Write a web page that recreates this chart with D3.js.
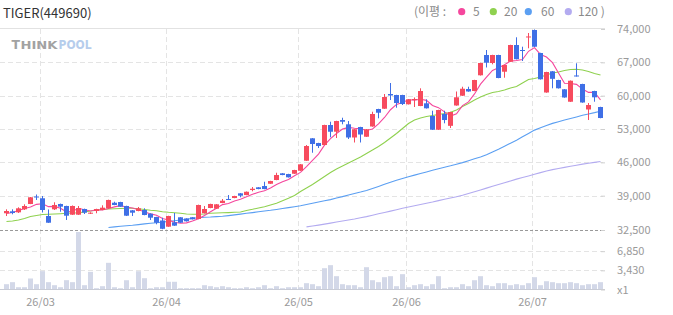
<!DOCTYPE html>
<html><head><meta charset="utf-8">
<script src="https://cdn.jsdelivr.net/npm/d3@7/dist/d3.min.js"></script>
<style>
html,body{margin:0;padding:0;background:#fff;}
svg{display:block;font-family:"Noto Sans CJK KR","Noto Sans",sans-serif;}
</style></head><body>
<svg id="chart" width="673" height="315"></svg>
<script>
// ---------- DATA ----------
const dates = [
"26/02/20","26/02/23","26/02/24","26/02/25","26/02/26","26/02/27",
"26/03/03","26/03/04","26/03/05","26/03/06","26/03/09","26/03/10","26/03/11","26/03/12","26/03/13","26/03/16","26/03/17","26/03/18","26/03/19","26/03/20","26/03/23","26/03/24","26/03/25","26/03/26","26/03/27","26/03/30","26/03/31",
"26/04/01","26/04/02","26/04/03","26/04/06","26/04/07","26/04/08","26/04/09","26/04/10","26/04/13","26/04/14","26/04/15","26/04/16","26/04/17","26/04/20","26/04/21","26/04/22","26/04/23","26/04/24","26/04/27","26/04/28","26/04/29","26/04/30",
"26/05/04","26/05/06","26/05/07","26/05/08","26/05/11","26/05/12","26/05/13","26/05/14","26/05/15","26/05/18","26/05/19","26/05/20","26/05/21","26/05/22","26/05/26","26/05/27","26/05/28","26/05/29",
"26/06/01","26/06/02","26/06/04","26/06/05","26/06/08","26/06/09","26/06/10","26/06/11","26/06/12","26/06/15","26/06/16","26/06/17","26/06/18","26/06/19","26/06/22","26/06/23","26/06/24","26/06/25","26/06/26","26/06/29","26/06/30",
"26/07/01","26/07/02","26/07/03","26/07/06","26/07/07","26/07/08","26/07/09","26/07/10","26/07/13","26/07/14","26/07/15","26/07/16"];

const open = [35670,36040,35850,36420,37430,38850,38510,35150,36420,37430,
37050,35400,35400,36480,35590,36100,36290,36610,37670,37800,
37050,36230,36100,36290,35590,34960,34300,33130,33960,34910,
34680,34910,34590,35670,36670,36540,37620,38380,38560,39500,
39140,40190,40760,41030,41510,42290,43700,43550,43610,44240,
46340,51050,50060,49640,53840,52430,54890,53990,51220,53420,
51380,53530,57200,57260,60350,60140,60140,58190,59150,57830,
58400,55730,52850,56150,53670,57940,59990,61400,60980,64280,
68540,66860,68540,65030,67130,70640,69590,72260,73790,68960,
60670,65120,63290,61340,58730,64240,62450,57100,60980,57620];
const high = [36420,36420,36800,37370,38750,39250,38940,36390,37750,37500,
37100,37150,37050,36550,35850,36530,37180,38250,37860,37850,
37100,36290,36860,36610,35650,35000,34830,35200,35720,34950,
34720,34950,37300,37050,37480,37420,38370,39140,38990,39550,
39880,40820,40800,41930,42130,43820,43750,43600,44440,45640,
49640,51100,50110,53900,54530,54730,55370,54680,52990,53470,
52990,56630,57250,60350,62660,60190,60190,59290,59620,61550,
59240,56840,57040,56840,56620,60880,61880,61880,63340,66910,
69590,68590,68590,66490,70690,72260,70280,73160,73900,69010,
65020,65170,63340,61390,63190,66800,62500,58460,61030,57670];
const low = [35150,35480,35720,36290,37400,38190,35820,33850,36290,35970,
34400,35350,35350,35530,35530,35670,36250,36560,37200,36880,
35150,35150,36050,35290,34400,33580,32650,33100,33280,33850,
34100,34500,34550,35620,36620,36500,37580,38200,38520,38700,
39100,39920,40350,40350,41470,42250,43300,42820,43570,44200,
46300,48020,49010,49600,51260,51110,53990,50900,50170,50170,
51340,53480,55250,57220,59090,57470,58040,58150,57620,57800,
57300,52800,52800,54200,53210,57900,59950,60830,60930,64230,
65920,66590,63660,63770,67080,67610,67280,69950,70230,63390,
60620,61550,61500,59570,58680,64020,58520,54890,58730,55260];
const close = [36100,35720,36610,37050,38700,38720,36290,33880,37240,36920,
35210,37050,36670,35780,35780,36480,36730,38190,37240,36920,
35210,35780,36610,35340,34830,33880,32730,35150,33320,33880,
34150,34530,37240,36480,37430,37370,38050,38240,38940,39000,
39830,40460,40400,40400,42080,43340,43340,42860,44390,45590,
49430,49850,49430,53840,52430,54680,54530,51220,52940,51850,
52940,56150,56420,59720,60040,58460,58250,59240,59300,60980,
57350,52850,56990,54890,56570,59660,61460,60880,63290,66860,
66920,68540,63710,66440,70640,67660,69440,72430,70280,63440,
64970,63540,61550,59620,63140,64070,58570,58040,59660,55310];
const volume = [950,1310,410,410,1970,950,3280,1310,770,410,
1670,1310,10280,770,3160,230,590,4770,410,230,
1660,410,3270,2020,230,410,410,1380,1380,230,
230,230,230,770,590,410,590,410,230,230,
410,230,410,770,230,590,230,410,410,410,
1130,950,590,3810,4350,2380,950,770,770,410,
3990,1660,1310,2200,2380,590,2740,410,770,950,
590,950,2380,230,410,410,950,590,1660,2380,
770,590,1130,1130,770,950,770,1130,2200,770,
1480,1310,1130,1130,1310,1130,770,950,950,1310];
const ma5 = [35630,35820,36200,36580,36840,37360,37470,36930,36970,36610,
35910,36060,36620,36330,36100,36350,36290,36590,36880,37110,
36860,36670,36350,35970,35550,35290,34680,34390,33980,33790,
33850,34210,34620,35260,35970,36610,37310,37510,38010,38320,
38810,39290,39730,40020,40630,41340,41910,42400,43200,43900,
45120,46420,47740,49630,51000,52050,52980,53340,53160,53040,
52700,53020,54060,55420,57050,58160,58580,59140,59060,59250,
59020,57940,57490,56610,55730,56190,57910,58690,60370,62430,
63880,65300,65860,66490,67250,67400,67580,69320,70090,68650,
68110,66930,64760,62620,62560,62380,61390,60690,60700,59130];
const ma20 = [34110,34210,34400,34680,35060,35250,35440,35480,35530,35590,
35670,35720,35760,35910,36100,36230,36390,36480,36540,36570,
36610,36610,36520,36390,36250,36140,35970,35850,35780,35670,
35530,35490,35480,35530,35670,35720,35760,35800,35850,35910,
36200,36420,36670,36920,37240,37560,38050,38510,39040,39880,
40610,41350,42190,43030,43870,44600,45230,45860,46490,47120,
47860,48590,49330,50170,51110,52060,53110,54160,54890,55310,
55630,55840,56050,56260,56510,56990,57730,58360,59090,59720,
60250,60670,60880,61190,61610,61930,62660,63400,63610,63920,
64340,64760,64970,65290,65500,65560,65390,65080,64660,64340];
const ma60 = [null,null,null,null,null,null,null,null,null,null,
null,null,null,null,null,null,null,32970,33090,33200,
33300,33390,33520,33660,33770,33880,34000,34130,34260,34400,
34550,34700,34830,34910,34960,35040,35120,35230,35360,35510,
35670,35800,35950,36100,36230,36390,36560,36740,36920,37100,
37330,37560,37810,38030,38260,38550,38830,39140,39460,39770,
40110,40530,40950,41390,41810,42230,42630,42980,43320,43660,
43990,44330,44640,44960,45270,45610,45940,46340,46740,47140,
47620,48190,48760,49390,50020,50650,51360,52080,52770,53250,
53760,54180,54530,54890,55210,55540,55880,56170,56440,56740];
const ma120 = [null,null,null,null,null,null,null,null,null,null,
null,null,null,null,null,null,null,null,null,null,
null,null,null,null,null,null,null,null,null,null,
null,null,null,null,null,null,null,null,null,null,
null,null,null,null,null,null,null,null,null,null,
33090,33260,33430,33620,33810,34020,34210,34400,34600,34830,
35040,35310,35570,35820,36080,36350,36610,36860,37090,37330,
37580,37810,38070,38320,38560,38790,39080,39460,39830,40210,
40590,40970,41350,41720,42100,42480,42820,43150,43490,43840,
44180,44470,44710,44940,45170,45400,45630,45820,45990,46180];
const priceTicks = [74000,67000,60000,53000,46000,39000,32500];
const volumeTicks = [6850,3430,0];
const maNames = ["5","20","60","120"];
const maColors = ["#f5479d","#8fd14f","#5b9ff2","#b3abf0"];
const title = "TIGER(449690)";

// ---------- CHART ----------
const UP = "#f74b5e", DOWN = "#3f6fe6";
const svg = d3.select("#chart");
const idx = d3.range(dates.length);
const x = d3.scaleBand().domain(idx).range([3.5,603.5]).paddingInner(1/6).paddingOuter(1/12);
const cx = i => x(i) + x.bandwidth()/2;
const y = d3.scaleLinear().domain([32500,39000,74000]).range([230,195.7,29]);
const yv = d3.scaleLinear().domain([0,d3.max(volume)]).range([289.5,232]);
const crisp = v => Math.round(v) + 0.5;
const monthStarts = idx.filter(i => i > 0 && dates[i].slice(3,5) !== dates[i-1].slice(3,5));

// grid
const grid = svg.append("g");
grid.selectAll("line.h").data(priceTicks.filter(t => t !== 74000 && t !== 32500)).join("line")
  .attr("x1",0).attr("x2",603).attr("y1",d=>crisp(y(d))).attr("y2",d=>crisp(y(d)))
  .attr("stroke","#e4e4e4").attr("stroke-dasharray","5,3");
grid.append("line").attr("x1",0).attr("x2",605).attr("y1",crisp(y(74000))-1).attr("y2",crisp(y(74000))-1)
  .attr("stroke","#e2e2e2");
grid.selectAll("line.vh").data(volumeTicks.filter(t=>t>0)).join("line")
  .attr("x1",0).attr("x2",603).attr("y1",d=>crisp(yv(d))).attr("y2",d=>crisp(yv(d)))
  .attr("stroke","#e4e4e4").attr("stroke-dasharray","5,3");
grid.selectAll("line.v").data(monthStarts).join("line")
  .attr("x1",i=>cx(i)-2).attr("x2",i=>cx(i)-2).attr("y1",y(74000)).attr("y2",289)
  .attr("stroke","#e4e4e4").attr("stroke-dasharray","5,3");

// volume
svg.append("g").selectAll("rect").data(idx).join("rect")
  .attr("x",i=>x(i)).attr("width",x.bandwidth())
  .attr("y",i=>yv(volume[i])).attr("height",i=>yv(0)-yv(volume[i]))
  .attr("fill","#d3d8e8");
svg.append("line").attr("x1",0).attr("x2",605).attr("y1",289.5).attr("y2",289.5).attr("stroke","#c9ccd6");

// bottom dashed line of price panel
svg.append("line").attr("x1",0).attr("x2",603).attr("y1",crisp(y(32500))).attr("y2",crisp(y(32500)))
  .attr("stroke","#999").attr("stroke-dasharray","3,2");

// moving averages
svg.append("clipPath").attr("id","pclip").append("rect")
  .attr("x",0).attr("y",y(74000)).attr("width",605).attr("height",y(32500)-y(74000));
const line = d3.line().defined(d => d != null).x((d,i) => cx(i)).y(d => y(d));
const maData = [ma5, ma20, ma60, ma120];
svg.append("g").attr("clip-path","url(#pclip)").selectAll("path").data(maData.slice().reverse()).join("path")
  .attr("d", d => line(d)).attr("fill","none")
  .attr("stroke",(d,k)=>maColors.slice().reverse()[k]).attr("stroke-width",1.1);

// candles
const cg = svg.append("g");
const col = i => close[i] >= open[i] ? UP : DOWN;
cg.selectAll("line").data(idx).join("line")
  .attr("x1",cx).attr("x2",cx).attr("y1",i=>y(high[i])).attr("y2",i=>y(low[i]))
  .attr("stroke",col);
cg.selectAll("rect").data(idx).join("rect")
  .attr("x",i=>x(i)).attr("width",x.bandwidth())
  .attr("y",i=>y(Math.max(open[i],close[i])))
  .attr("height",i=>Math.max(1,Math.abs(y(open[i])-y(close[i]))))
  .attr("fill",col);

// axes
const styleAxis = g => {
  g.select(".domain").remove();
  g.selectAll(".tick line").attr("stroke","#cfcfcf");
  g.selectAll(".tick text").attr("fill","#9a9a9a").attr("font-size",11).attr("font-family",'"Noto Sans CJK KR","Noto Sans",sans-serif');
};
svg.append("g").attr("transform","translate(601,0)")
  .call(d3.axisRight(y).tickValues(priceTicks).tickSize(4).tickPadding(12).tickFormat(d3.format(",")))
  .call(styleAxis);
svg.append("g").attr("transform","translate(601,0)")
  .call(d3.axisRight(yv).tickValues(volumeTicks).tickSize(4).tickPadding(12).tickFormat(d => d === 0 ? "x1" : d3.format(",")(d)))
  .call(styleAxis);
svg.append("g").attr("transform","translate(-2,293)")
  .call(d3.axisBottom(x).tickValues(monthStarts).tickSize(0).tickPadding(5).tickFormat(i => dates[i].slice(0,5)))
  .call(styleAxis);

// title
svg.append("text").attr("x",3).attr("y",18).attr("font-size",13).attr("fill","#333").text(title);

// legend
const lg = svg.append("g").attr("font-size",12).attr("fill","#8a8a8a");
lg.append("text").attr("x",414).attr("y",16).text("(이평 :");
const dotX = [461.7,493.3,528.3,568.3];
const labX = [473,504,541,578];
maNames.forEach((n,k) => {
  lg.append("circle").attr("cx",dotX[k]).attr("cy",11.7).attr("r",3.6).attr("fill",maColors[k]);
  lg.append("text").attr("x",labX[k]).attr("y",16).text(k === 3 ? n + " )" : n);
});

// watermark logo
const logo = svg.append("g").attr("font-weight","bold")
  .attr("font-family","'DejaVu Sans','Liberation Sans',sans-serif");
logo.append("text").attr("x",11.5).attr("y",48.5).attr("font-size",12).attr("fill","#a2a2a2")
  .attr("textLength",8.5).attr("lengthAdjust","spacingAndGlyphs").text("T");
logo.append("text").attr("x",20.5).attr("y",48.5).attr("font-size",10).attr("fill","#a2a2a2")
  .attr("textLength",37).attr("lengthAdjust","spacingAndGlyphs").text("HINK");
logo.append("text").attr("x",58.5).attr("y",48.5).attr("font-size",12).attr("fill","#b6cdec")
  .attr("textLength",33).attr("lengthAdjust","spacingAndGlyphs").text("POOL");
</script>
</body></html>
